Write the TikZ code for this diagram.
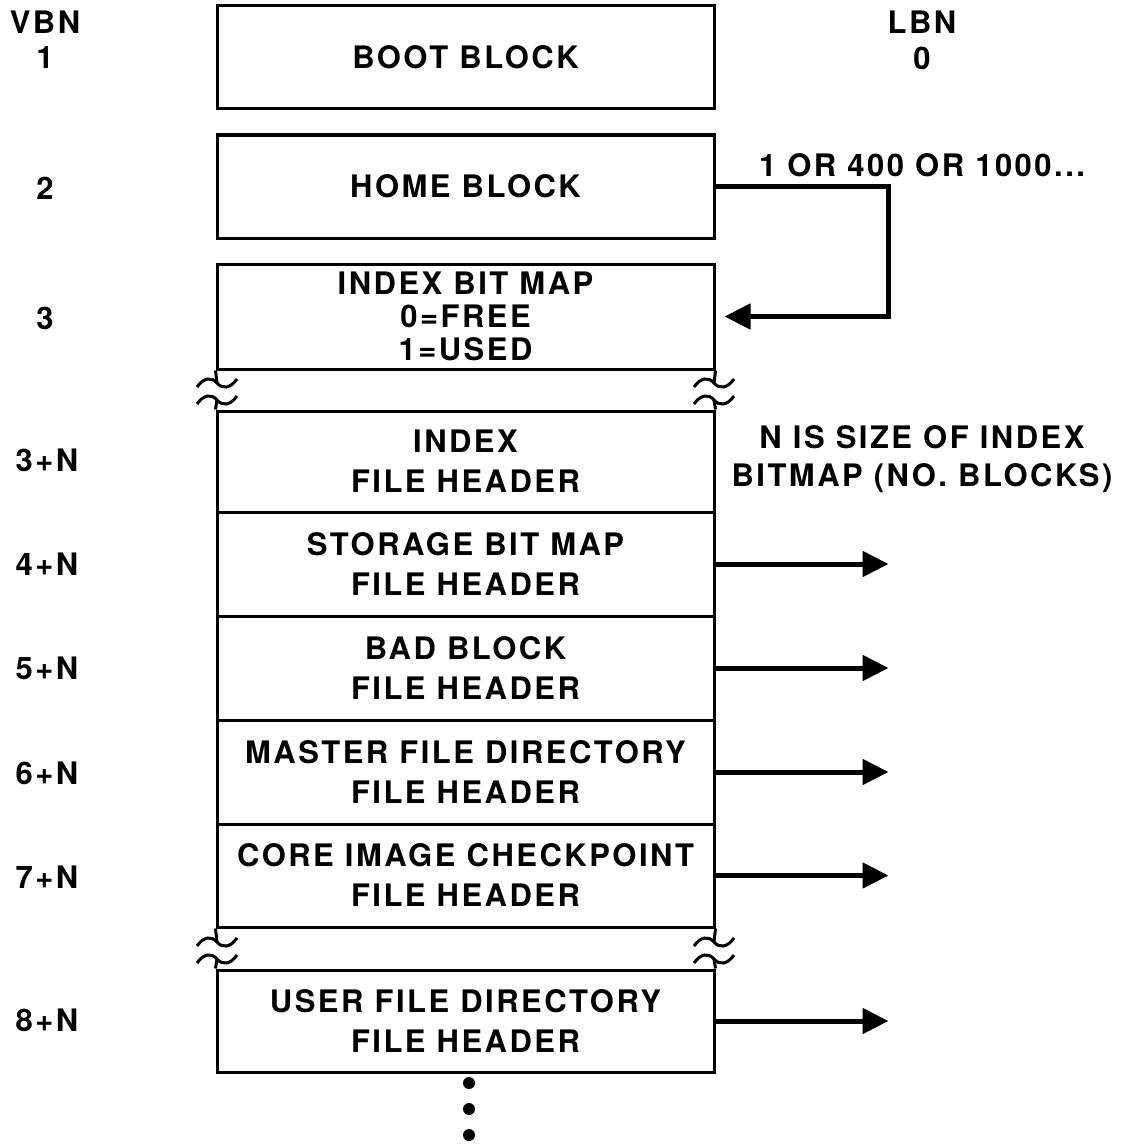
\documentclass[tikz,border=0pt]{standalone}
\usepackage{fontspec}
\setmainfont{TeX Gyre Heros}[LetterSpace=8]
\usetikzlibrary{arrows.meta}
\begin{document}
\begin{tikzpicture}[x=1pt,y=-1pt,
  txt/.style={font=\fontsize{31}{38}\selectfont\bfseries, align=center, inner sep=0pt},
  blk/.style={draw, line width=3pt, minimum width=497pt, minimum height=103pt, inner sep=0pt, align=center, font=\fontsize{31}{40}\selectfont\bfseries},
  conn/.style={line width=5pt, -{Triangle[length=26pt,width=25pt]}},
  brk/.style={line width=3pt},
  dotn/.style={circle, fill, inner sep=0pt, minimum size=12pt},
  wave/.pic={\draw[brk] (-20,4) .. controls (-13,-6) and (-5,-6) .. (0,0) .. controls (5,6) and (13,6) .. (20,-4);}]
\useasboundingbox (0,0) rectangle (1125,1145);

% blocks
\node[blk] (boot) at (465.5,57.5) {BOOT BLOCK};
\node[blk] (home) at (465.5,186.5) {HOME BLOCK};
\node[blk, minimum height=105pt, font=\fontsize{31}{33}\selectfont\bfseries] (bm) at (465.5,316.5) {INDEX BIT MAP\\0=FREE\\1=USED};
\node[blk, minimum height=101pt] (ifh) at (465.5,461.5) {INDEX\\FILE HEADER};
\node[blk, minimum height=104pt] (sbm) at (465.5,564) {STORAGE BIT MAP\\FILE HEADER};
\node[blk, minimum height=104pt] (bad) at (465.5,668) {BAD BLOCK\\FILE HEADER};
\node[blk, minimum height=104pt] (mfd) at (465.5,772) {MASTER FILE DIRECTORY\\FILE HEADER};
\node[blk, minimum height=103pt] (cic) at (465.5,875.5) {CORE IMAGE CHECKPOINT\\FILE HEADER};
\node[blk, minimum height=102pt] (ufd) at (465.5,1021) {USER FILE DIRECTORY\\FILE HEADER};

% breaks
\coordinate (b1la) at (217,383); \coordinate (b1lb) at (217,400);
\coordinate (b1ra) at (714,383); \coordinate (b1rb) at (714,400);
\coordinate (b2la) at (217,942); \coordinate (b2lb) at (217,959);
\coordinate (b2ra) at (714,942); \coordinate (b2rb) at (714,959);
\draw[brk] (bm.south west) -- (b1la);
\draw[brk] (bm.south east) -- (b1ra);
\draw[brk] (b1lb) -- (ifh.north west);
\draw[brk] (b1rb) -- (ifh.north east);
\draw[brk] (cic.south west) -- (b2la);
\draw[brk] (cic.south east) -- (b2ra);
\draw[brk] (b2lb) -- (ufd.north west);
\draw[brk] (b2rb) -- (ufd.north east);
\foreach \c in {b1la,b1lb,b1ra,b1rb,b2la,b2lb,b2ra,b2rb} \pic at (\c) {wave};

% dots
\node[dotn] (d1) at (469,1083) {};
\node[dotn] (d2) at (469,1109) {};
\node[dotn] (d3) at (469,1135) {};

% left labels
\node[txt] (vbn) at (45,22) {VBN};
\node[txt] (v1) at (45,58) {1};
\node[txt] (v2) at (45,188) {2};
\node[txt] (v3) at (45,318) {3};
\node[txt] (v3n) at (47,460) {3+N};
\node[txt] (v4n) at (47,564) {4+N};
\node[txt] (v5n) at (47,668) {5+N};
\node[txt] (v6n) at (47,773) {6+N};
\node[txt] (v7n) at (47,877) {7+N};
\node[txt] (v8n) at (47,1020) {8+N};

% right labels
\node[txt] (lbn) at (922,22) {LBN};
\node[txt] (l0) at (922,58) {0};
\node[txt] (or) at (922,165) {1 OR 400 OR 1000...};
\node[txt] (nis) at (922,459) {N IS SIZE OF INDEX\\BITMAP (NO. BLOCKS)};

% connectors
\draw[conn] (home.east) -- ++(173,0) |- ([xshift=9pt]bm.east);
\foreach \n in {sbm,bad,mfd,cic,ufd}
  \draw[conn] (\n.east) -- ([xshift=173pt]\n.east);
\end{tikzpicture}
\end{document}
